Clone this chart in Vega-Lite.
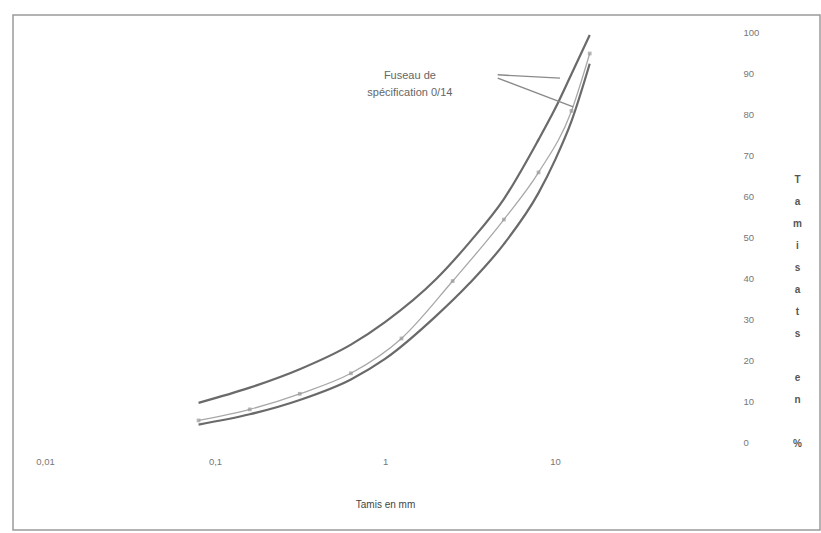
{
  "$schema": "https://vega.github.io/schema/vega-lite/v6.json",
  "width": 807,
  "height": 515,
  "autosize": {"type": "none"},
  "padding": {"left": 13, "top": 15, "right": 1, "bottom": 3},
  "background": "white",
  "config": {
    "view": {"stroke": "#9a9a9a", "strokeWidth": 1.5},
    "font": "Liberation Sans"
  },
  "datasets": {
    "curves": [
      {"s": "sup", "x": 0.08, "y": 9.8},
      {"s": "sup", "x": 0.16, "y": 13.5},
      {"s": "sup", "x": 0.315, "y": 18},
      {"s": "sup", "x": 0.63, "y": 24},
      {"s": "sup", "x": 1, "y": 29.5},
      {"s": "sup", "x": 2, "y": 40},
      {"s": "sup", "x": 3.15, "y": 49},
      {"s": "sup", "x": 5, "y": 59.5},
      {"s": "sup", "x": 8, "y": 74},
      {"s": "sup", "x": 10, "y": 81.5},
      {"s": "sup", "x": 12.5, "y": 90},
      {"s": "sup", "x": 16, "y": 99.5},
      {"s": "inf", "x": 0.08, "y": 4.5},
      {"s": "inf", "x": 0.16, "y": 7},
      {"s": "inf", "x": 0.315, "y": 10.5},
      {"s": "inf", "x": 0.63, "y": 15.5},
      {"s": "inf", "x": 1, "y": 20.5},
      {"s": "inf", "x": 2, "y": 31},
      {"s": "inf", "x": 3.15, "y": 39},
      {"s": "inf", "x": 5, "y": 48.5},
      {"s": "inf", "x": 8, "y": 61},
      {"s": "inf", "x": 10, "y": 69},
      {"s": "inf", "x": 12.5, "y": 78.5},
      {"s": "inf", "x": 16, "y": 92.5},
      {"s": "moy", "x": 0.08, "y": 5.5},
      {"s": "moy", "x": 0.16, "y": 8.2},
      {"s": "moy", "x": 0.315, "y": 12},
      {"s": "moy", "x": 0.63, "y": 17},
      {"s": "moy", "x": 1.25, "y": 25.5},
      {"s": "moy", "x": 2.5, "y": 39.5},
      {"s": "moy", "x": 5, "y": 54.5},
      {"s": "moy", "x": 8, "y": 66},
      {"s": "moy", "x": 12.5, "y": 81},
      {"s": "moy", "x": 16, "y": 95}
    ],
    "leaders": [
      {"x": 4.6, "y": 89.8, "x2": 10.7, "y2": 89},
      {"x": 4.6, "y": 89, "x2": 12.8, "y2": 82}
    ],
    "labels": [
      {"x": 1.4, "y": 91, "t": "Fuseau de\nspécification 0/14"}
    ]
  },
  "encoding": {
    "x": {
      "field": "x",
      "type": "quantitative",
      "scale": {"type": "log", "domain": [0.00648, 362], "nice": false},
      "axis": {
        "orient": "bottom",
        "offset": -87,
        "values": [0.01, 0.1, 1, 10],
        "domain": false,
        "ticks": false,
        "grid": false,
        "labelFlush": false,
        "labelOverlap": false,
        "labelPadding": 13,
        "labelFontSize": 9.5,
        "labelColor": "#777777",
        "labelExpr": "replace(toString(datum.value), '.', ',')",
        "title": "Tamis en mm",
        "titleFontSize": 10,
        "titleFontWeight": "normal",
        "titleColor": "#444444",
        "titleX": 372,
        "titleY": 61,
        "titleAlign": "center",
        "titleBaseline": "middle"
      }
    },
    "y": {
      "field": "y",
      "type": "quantitative",
      "scale": {"domain": [-21.22, 104.39], "nice": false, "zero": false},
      "axis": {
        "orient": "right",
        "offset": -95,
        "values": [0, 10, 20, 30, 40, 50, 60, 70, 80, 90, 100],
        "domain": false,
        "ticks": false,
        "grid": false,
        "labelPadding": 18,
        "labelAlign": "left",
        "labelFontSize": 9.5,
        "labelColor": "#777777",
        "title": ["T", "a", "m", "i", "s", "a", "t", "s", "\u2800", "e", "n", "\u2800", "%"],
        "titleAngle": 0,
        "titleAlign": "center",
        "titleBaseline": "top",
        "titleX": 72,
        "titleY": 159,
        "titleLineHeight": 22,
        "titleFontSize": 10,
        "titleFontWeight": "bold",
        "titleColor": "#555555"
      }
    }
  },
  "layer": [
    {
      "data": {"name": "curves"},
      "transform": [{"filter": "datum.s !== 'moy'"}],
      "mark": {"type": "line", "interpolate": "monotone", "color": "#6a6a6a", "strokeWidth": 2.2},
      "encoding": {"detail": {"field": "s"}}
    },
    {
      "data": {"name": "curves"},
      "transform": [{"filter": "datum.s === 'moy'"}],
      "mark": {"type": "line", "interpolate": "monotone", "color": "#a8a8a8", "strokeWidth": 1.3}
    },
    {
      "data": {"name": "curves"},
      "transform": [{"filter": "datum.s === 'moy'"}],
      "mark": {"type": "point", "shape": "square", "filled": true, "size": 14, "color": "#999999"}
    },
    {
      "data": {"name": "leaders"},
      "mark": {"type": "rule", "color": "#8a8a8a", "strokeWidth": 1.4},
      "encoding": {"x2": {"field": "x2"}, "y2": {"field": "y2"}}
    },
    {
      "data": {"name": "labels"},
      "mark": {"type": "text", "lineBreak": "\n", "lineHeight": 17, "fontSize": 11, "color": "#666666", "align": "center", "baseline": "top"},
      "encoding": {"text": {"field": "t"}}
    }
  ]
}
